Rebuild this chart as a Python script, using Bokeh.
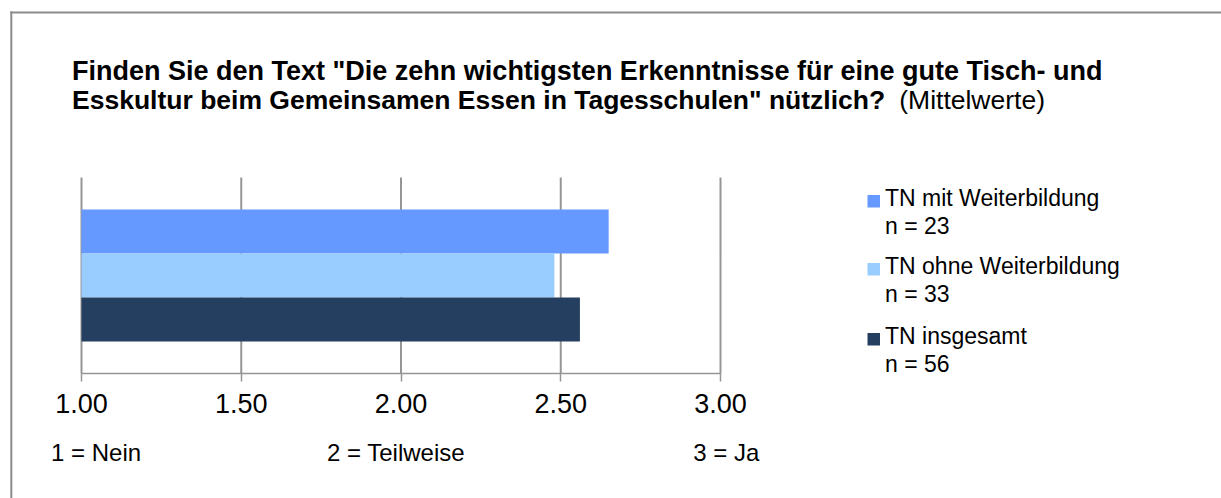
from bokeh.plotting import figure
from bokeh.models import (ColumnDataSource, Range1d, FixedTicker,
                          NumeralTickFormatter, Label, BoxAnnotation)
from bokeh.embed import file_html
from bokeh.resources import INLINE

# ---- data ----
series_names = ["TN mit Weiterbildung", "TN ohne Weiterbildung", "TN insgesamt"]
series_n = ["n = 23", "n = 33", "n = 56"]
series_values = [2.65, 2.48, 2.56]
series_colors = ["#6699FF", "#99CCFF", "#243F60"]
series_pos = [3, 2, 1]              # row of each bar, top to bottom
x_ticks = [1.0, 1.5, 2.0, 2.5, 3.0]
scale_labels = ["1 = Nein", "2 = Teilweise", "3 = Ja"]
title_bold_1 = 'Finden Sie den Text "Die zehn wichtigsten Erkenntnisse für eine  gute Tisch- und'
title_bold_2 = 'Esskultur beim Gemeinsamen Essen in Tagesschulen" nützlich?'
title_normal_2 = "(Mittelwerte)"

FONT = "Liberation Sans"
GRID = "#969696"

# ---- layout (pixels, canvas coords from top-left) ----
W, H = 1221, 498
PX_PER_X = 319.5
X0_PX = 81
PX_PER_ROW = 44
ROW1_PX = 319
AXIS_PX = 373
GRID_TOP_PX = 177

x_start = x_ticks[0] - X0_PX / PX_PER_X
x_end = x_start + W / PX_PER_X
y_start = 1 - (H - ROW1_PX) / PX_PER_ROW
y_end = y_start + H / PX_PER_ROW
y_axis = 1 - (AXIS_PX - ROW1_PX) / PX_PER_ROW
y_grid_top = 1 + (ROW1_PX - GRID_TOP_PX) / PX_PER_ROW

p = figure(width=W, height=H, output_backend="svg", toolbar_location=None,
           x_range=Range1d(x_start, x_end), y_range=Range1d(y_start, y_end),
           min_border=0)
p.outline_line_color = None
p.background_fill_color = "white"
p.border_fill_color = "white"
p.yaxis.visible = False
p.xgrid.visible = False
p.ygrid.visible = False

# gridlines
p.segment(x0=x_ticks, x1=x_ticks, y0=[y_axis] * len(x_ticks),
          y1=[y_grid_top] * len(x_ticks), line_color=GRID, line_width=2)

# bars
src = ColumnDataSource(dict(y=series_pos, val=series_values,
                            left=[x_ticks[0]] * 3, color=series_colors))
p.hbar(y="y", left="left", right="val", height=1, source=src,
       fill_color="color", line_color=None)

xa = p.xaxis[0]
xa.fixed_location = y_axis
xa.bounds = (x_ticks[0], x_ticks[-1])
xa.ticker = FixedTicker(ticks=x_ticks)
xa.formatter = NumeralTickFormatter(format="0.00")
xa.axis_line_color = GRID
xa.axis_line_width = 1.5
xa.major_tick_line_color = GRID
xa.major_tick_line_width = 1.5
xa.major_tick_out = 8
xa.major_tick_in = 0
xa.minor_tick_line_color = None
xa.major_label_text_font = FONT
xa.major_label_text_font_size = "27px"
xa.major_label_text_color = "black"
xa.major_label_standoff = 12

def sx(X):
    return X
def sy(Y):
    return H - Y

def box(l, r, t, b, color):
    p.add_layout(BoxAnnotation(left=sx(l), right=sx(r), top=sy(t), bottom=sy(b),
                               left_units="screen", right_units="screen",
                               top_units="screen", bottom_units="screen",
                               fill_color=color, fill_alpha=1, line_color=None))

# border of chart area (left and top edges; right/bottom lie outside the picture)
box(9.8, 11.8, 11, H + 20, "#8c8c8c")
box(9.8, W + 20, 11, 13, "#8c8c8c")

def lab(X, Y, text, size, bold=False, align="left"):
    fs = float(size.replace("px", ""))
    p.add_layout(Label(x=sx(X), y=sy(Y) + 0.4 * fs, x_units="screen", y_units="screen",
                       text=text, text_font=FONT, text_font_size=size,
                       text_font_style="bold" if bold else "normal",
                       text_color="black", text_baseline="alphabetic",
                       text_align=align))

# title
lab(71.5, 81.5, title_bold_1, "27px", True)
lab(71.5, 110.5, title_bold_2, "26.5px", True)
lab(1044.5, 110.5, title_normal_2, "26.5px", align="right")

# scale explanation
for X, t in zip([50.5, 326.5, 692.7], scale_labels):
    lab(X, 461.7, t, "24px")

# legend
leg_base = [207, 275, 345]
for name, n, col, Yb in zip(series_names, series_n, series_colors, leg_base):
    box(867, 879.5, Yb - 12.5, Yb, col)
    lab(884.5, Yb, name, "23px")
    lab(884.5, Yb + 28, n, "23px")

open("out.html", "w").write(file_html(p, INLINE))
